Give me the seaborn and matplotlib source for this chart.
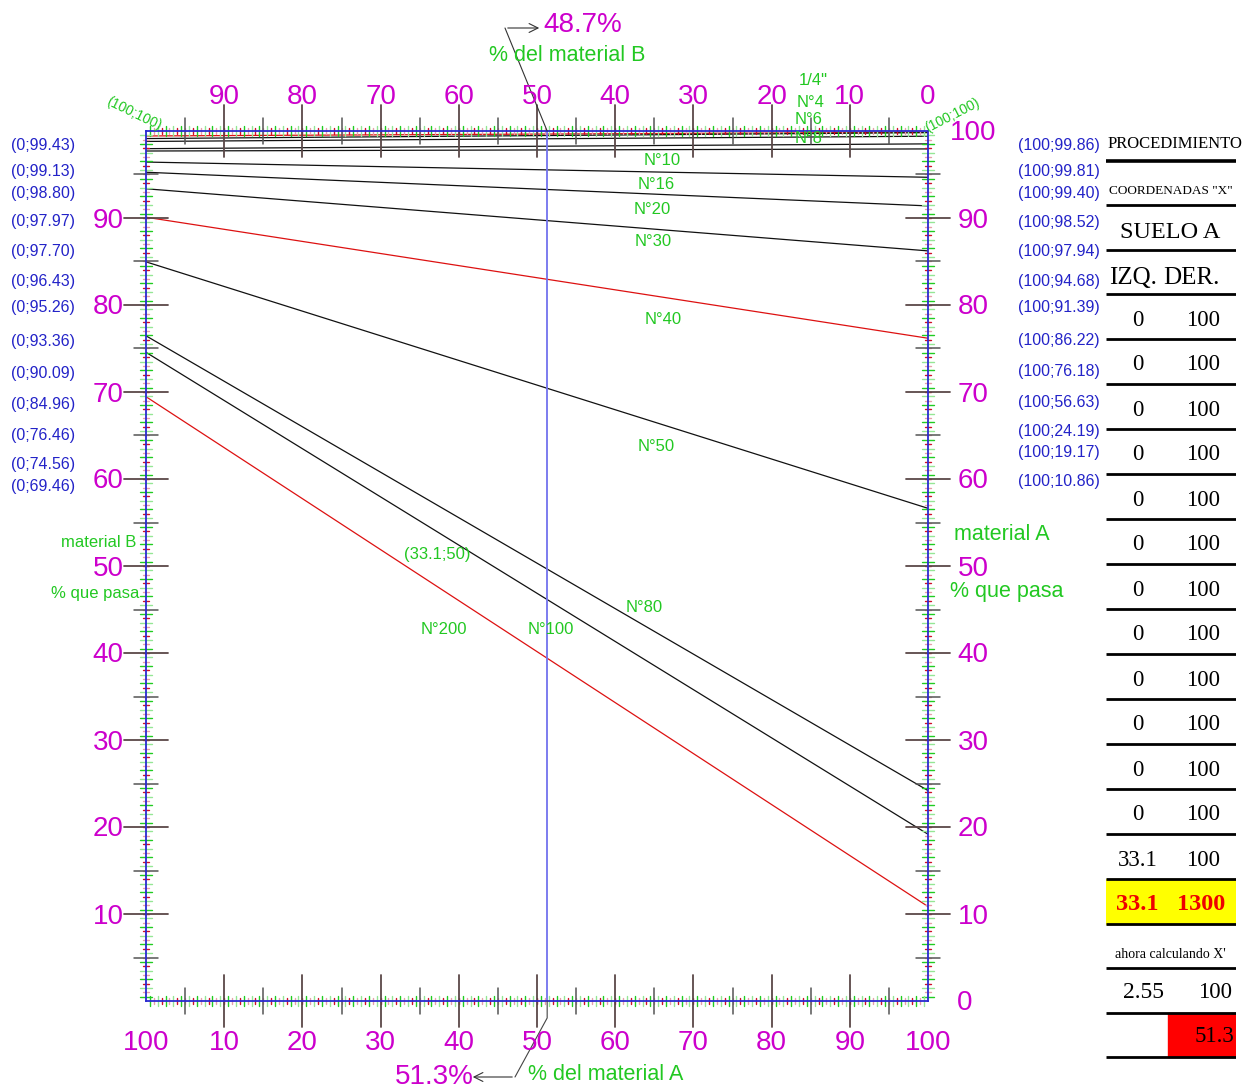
import numpy as np
import pandas as pd
import matplotlib
matplotlib.use("Agg")
import matplotlib.pyplot as plt
from matplotlib.patches import Rectangle
import seaborn as sns

# ---------------- data ----------------
tamices = ['1/4"', "N°4", "N°6", "N°8", "N°10", "N°16", "N°20",
           "N°30", "N°40", "N°50", "N°80", "N°100", "N°200"]
# % que pasa del material B (eje izquierdo, x = 0)
pasa_b = [99.43, 99.13, 98.80, 97.97, 97.70, 96.43, 95.26,
          93.36, 90.09, 84.96, 76.46, 74.56, 69.46]
# % que pasa del material A (eje derecho, x = 100)
pasa_a = [99.86, 99.81, 99.40, 98.52, 97.94, 94.68, 91.39,
          86.22, 76.18, 56.63, 24.19, 19.17, 10.86]
tamices_rojos = ['1/4"', "N°40", "N°200"]

pct_material_a = 51.3
pct_material_b = 48.7
punto_control = (33.1, 50)

eje_inferior = ["100", "10", "20", "30", "40", "50", "60", "70", "80", "90", "100"]
eje_superior = ["90", "80", "70", "60", "50", "40", "30", "20", "10", "0"]
eje_izquierdo = ["90", "80", "70", "60", "50", "40", "30", "20", "10"]
eje_derecho = ["100", "90", "80", "70", "60", "50", "40", "30", "20", "10", "0"]

tabla_izq = [0, 0, 0, 0, 0, 0, 0, 0, 0, 0, 0, 0, 33.1]
tabla_der = [100, 100, 100, 100, 100, 100, 100, 100, 100, 100, 100, 100, 100]
resultado = (33.1, 1300)
calculo_x = (2.55, 100)

# ---------------- style ----------------
sns.set_style("white")
plt.rcParams["font.family"] = ["Liberation Sans", "DejaVu Sans"]

MAGENTA = "#cc00cc"
GREEN = "#22c822"
BLUE_TXT = "#2323c8"
BLUE_FRAME = "#2a2ad0"

W, H = 1246, 1090
fig = plt.figure(figsize=(W / 100, H / 100), dpi=100)
fig.patch.set_facecolor("white")

X0, X1, Y0, Y1 = 146, 928, 1001, 131  # plot box in pixels
ax = fig.add_axes([X0 / W, (H - Y0) / H, (X1 - X0) / W, (Y0 - Y1) / H])
ax.set_xlim(0, 100)
ax.set_ylim(0, 100)
ax.set_facecolor("none")

# ---------------- mixing lines ----------------
df = pd.DataFrame({
    "tamiz": np.repeat(tamices, 2),
    "x": [0, 100] * len(tamices),
    "y": np.ravel(np.column_stack([pasa_b, pasa_a])),
})
palette = {t: ("#dd1111" if t in tamices_rojos else "#111111") for t in tamices}
sns.lineplot(data=df, x="x", y="y", hue="tamiz", palette=palette,
             estimator=None, legend=False, lw=0.9, ax=ax, zorder=3)

ax.axvline(pct_material_a, color="#7272ee", lw=1.3, zorder=4)

ax.set_xticks([])
ax.set_yticks([])
ax.set_xlabel("")
ax.set_ylabel("")
for sp in ax.spines.values():
    sp.set_color(BLUE_FRAME)
    sp.set_linewidth(1.3)
    sp.set_zorder(6)

# ---------------- scale ticks ----------------
minor = np.arange(0.5, 100, 0.5)
for v in minor:
    if v % 1 == 0:
        col = "#d01028" if int(v) % 2 == 0 else "#e6a0a8"
        lx, ly = 0.3, 0.35
    else:
        col = "#22cc22" if int(v) % 2 == 0 else "#95e695"
        lx, ly = 0.62, 0.75
    for yb in (0, 100):
        ax.plot([v, v], [yb - lx, yb + lx], color=col, lw=1.0, clip_on=False, zorder=5)
    for xb in (0, 100):
        ax.plot([xb - ly, xb + ly], [v, v], color=col, lw=1.0, clip_on=False, zorder=5)

for v in range(5, 100, 5):
    big = v % 10 == 0
    lx = 3.0 if big else 1.55
    ly = 2.8 if big else 1.5
    col = "#5b4848" if big else "#555555"
    lw = 1.3 if big else 1.1
    for yb in (0, 100):
        ax.plot([v, v], [yb - lx, yb + lx], color=col, lw=lw, clip_on=False, zorder=5)
    for xb in (0, 100):
        ax.plot([xb - ly, xb + ly], [v, v], color=col, lw=lw, clip_on=False, zorder=5)

# ---------------- overlay for labels (pixel coordinates) ----------------
ov = fig.add_axes([0, 0, 1, 1])
ov.set_xlim(0, W)
ov.set_ylim(H, 0)
ov.axis("off")

DY = 2.5  # baseline correction for vertically centred labels

def T(x, y, s, **kw):
    kw.setdefault("ha", "center")
    return ov.text(x, y + DY, s, va="center", **kw)

def px(xv):
    return X0 + xv * (X1 - X0) / 100

def py(yv):
    return Y0 - yv * (Y0 - Y1) / 100

for i, s in enumerate(eje_inferior):
    T(px(i * 10), 1041, s, color=MAGENTA, fontsize=20)
for i, s in enumerate(eje_superior):
    T(px((i + 1) * 10), 95, s, color=MAGENTA, fontsize=20)
for i, s in enumerate(eje_izquierdo):
    T(108, py(90 - i * 10), s, color=MAGENTA, fontsize=20)
for i, s in enumerate(eje_derecho):
    xx = 965 if s == "0" else 973
    T(xx, py(100 - i * 10), s, color=MAGENTA, fontsize=20)

# end-point coordinates
yl = [143, 169, 191, 219, 249, 279, 305, 339, 371, 402, 433, 462, 484]
yr = [143, 169, 191, 220, 249, 279, 305, 338, 369, 400, 429, 450, 479]
for v, y in zip(pasa_b, yl):
    T(43, y, f"(0;{v:.2f})", color=BLUE_TXT, fontsize=11.5)
for v, y in zip(pasa_a, yr):
    T(1059, y, f"(100;{v:.2f})", color=BLUE_TXT, fontsize=11.5)

# sieve labels
lab_pos = {'1/4"': (813, 78), "N°4": (811, 100), "N°6": (809, 117), "N°8": (809, 136),
           "N°10": (662, 158), "N°16": (656, 182), "N°20": (652, 207), "N°30": (653, 239),
           "N°40": (663, 317), "N°50": (656, 444), "N°80": (644, 605), "N°100": (551, 627),
           "N°200": (444, 627)}
for t in tamices:
    x, y = lab_pos[t]
    T(x, y, t, color=GREEN, fontsize=12, zorder=7)

T(437, 552, f"({punto_control[0]};{punto_control[1]})", color=GREEN, fontsize=12)
ov.text(134, 114, "(100;100)", color=GREEN, fontsize=10, rotation=-26,
        ha="center", va="center", rotation_mode="anchor")
ov.text(952, 115, "(100;100)", color=GREEN, fontsize=10, rotation=27,
        ha="center", va="center", rotation_mode="anchor")

T(99, 540, "material B", color=GREEN, fontsize=12)
T(95, 591, "% que pasa", color=GREEN, fontsize=12)
T(1002, 532, "material A", color=GREEN, fontsize=15.5)
T(1007, 589, "% que pasa", color=GREEN, fontsize=15.5)

# result call-outs
xm = px(pct_material_a)
T(583, 22, f"{pct_material_b}%", color=MAGENTA, fontsize=20)
T(567, 53, "% del material B", color=GREEN, fontsize=15.5)
ov.plot([xm, 505], [Y1, 28], color="#333333", lw=0.8)
ov.annotate("", xy=(542, 28), xytext=(505, 28),
            arrowprops=dict(arrowstyle="->", color="#333333", lw=0.8, mutation_scale=16))

T(434, 1075, f"{pct_material_a}%", color=MAGENTA, fontsize=20)
T(606, 1072, "% del material A", color=GREEN, fontsize=15.5)
ov.plot([xm, xm, 515], [Y0, 1018, 1077], color="#444444", lw=0.8)
ov.annotate("", xy=(470, 1077), xytext=(515, 1077),
            arrowprops=dict(arrowstyle="->", color="#333333", lw=0.8, mutation_scale=16))

# ---------------- procedure table ----------------
TX0, TX1 = 1106, 1236
tb = fig.add_axes([TX0 / W, 0, (TX1 - TX0) / W, 1])
tb.set_xlim(TX0, TX1)
tb.set_ylim(H, 0)
tb.axis("off")
serif = ["Liberation Serif", "DejaVu Serif"]

def cell(x, y, s, **kw):
    kw.setdefault("fontsize", 16.5)
    kw.setdefault("color", "black")
    kw.setdefault("ha", "center")
    tb.text(x, y + 2, s, family=serif, va="center", clip_on=False, zorder=3, **kw)

tb.add_patch(Rectangle((TX0, 879), TX1 - TX0, 45, color="#ffff00", zorder=0))
tb.add_patch(Rectangle((1168, 1013), TX1 - 1168, 44, color="#ff0000", zorder=0))

cell(1108, 142, "PROCEDIMIENTO", fontsize=12, ha="left")
cell(1171, 189, 'COORDENADAS "X"', fontsize=9.5)
cell(1170, 230, "SUELO A", fontsize=17.5)
cell(1133, 276, "IZQ.", fontsize=18)
cell(1191, 276, "DER.", fontsize=18)

for k, (a, b) in enumerate(zip(tabla_izq, tabla_der)):
    y = 318 + 45 * k
    cell(1138, y, f"{a:g}")
    cell(1203, y, f"{b:g}")

cell(1137, 902, f"{resultado[0]:g}", color="#ee0000", fontsize=17.5, weight="bold")
cell(1201, 902, f"{resultado[1]:g}", color="#ee0000", fontsize=17.5, weight="bold")
cell(1170, 953, "ahora calculando X'", fontsize=10)
cell(1144, 991, f"{calculo_x[0]:g}", fontsize=17)
cell(1215, 991, f"{calculo_x[1]:g}", fontsize=16.5)
cell(1234, 1035, f"{pct_material_a}", fontsize=16.5, ha="right")

lines_y = [161, 205, 250, 294] + [339 + 45 * k for k in range(13)] + [924, 968, 1013, 1057]
for y in lines_y:
    tb.plot([TX0, TX1], [y, y], color="black", lw=2.6 if y == 161 else 2.0,
            solid_capstyle="butt", zorder=2)

fig.savefig("out.png", dpi=100, facecolor="white")
